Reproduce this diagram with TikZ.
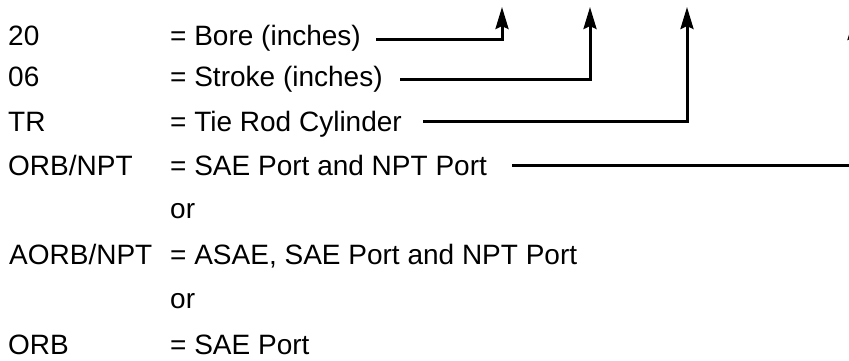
\documentclass[tikz,border=0pt]{standalone}
\usepackage{fontspec}
\setmainfont{Liberation Sans}
\usetikzlibrary{arrows.meta}
\begin{document}
\begin{tikzpicture}[x=1pt,y=-1pt,
  txt/.style={inner sep=0pt,anchor=base west,font=\fontsize{28}{34}\selectfont},
  lead/.style={line width=3pt,-{Stealth[length=22pt,width=13pt,inset=3pt]}}]
\useasboundingbox (0,0) rectangle (849,361);
\clip (0,0) rectangle (849,361);
\node[txt] (k1) at (8,46) {20};
\node[txt] (v1) at (170,46) {= Bore (inches)};
\node[txt] (k2) at (8,87) {06};
\node[txt] (v2) at (170,87) {= Stroke (inches)};
\node[txt] (k3) at (8,131) {TR};
\node[txt] (v3) at (170,131) {= Tie Rod Cylinder};
\node[txt] (k4) at (8,175) {ORB/NPT};
\node[txt] (v4) at (170,175) {= SAE Port and NPT Port};
\node[txt] (or1) at (170,218) {or};
\node[txt] (k5) at (9,264) {AORB/NPT};
\node[txt] (v5) at (170,264) {= ASAE, SAE Port and NPT Port};
\node[txt] (or2) at (170,308) {or};
\node[txt] (k6) at (8,354) {ORB};
\node[txt] (v6) at (170,354) {= SAE Port};
\coordinate (s1) at (376,40);
\coordinate (t1) at (502,7);
\coordinate (s2) at (400,80);
\coordinate (t2) at (590,7);
\coordinate (s3) at (423,121);
\coordinate (t3) at (687,7);
\coordinate (s4) at (512,165);
\coordinate (t4) at (854,18);
\draw[lead] (s1) -| (t1);
\draw[lead] (s2) -| (t2);
\draw[lead] (s3) -| (t3);
\draw[lead] (s4) -| (t4);
\end{tikzpicture}
\end{document}
